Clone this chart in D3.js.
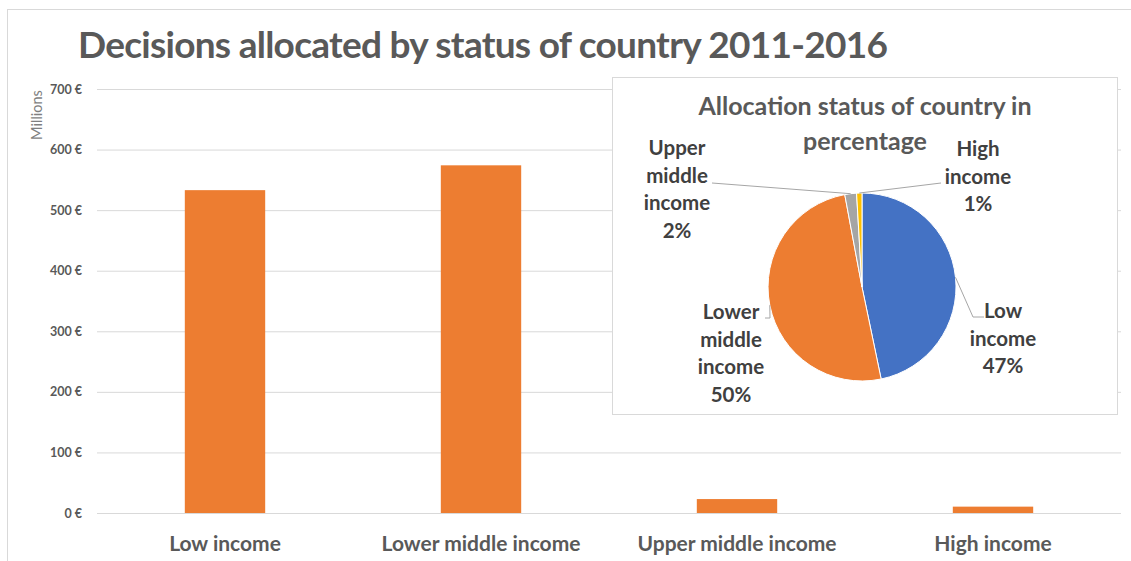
<!DOCTYPE html>
<html>
<head>
<meta charset="utf-8">
<script src="https://cdn.jsdelivr.net/npm/d3@7"></script>
<style>
  body { margin: 0; background: #fff; }
  svg { display: block; font-family: Lato, "Open Sans", sans-serif; }
</style>
</head>
<body>
<div id="chart"></div>
<script>
// Data
const categories = ["Low income", "Lower middle income", "Upper middle income", "High income"];
const values = [533, 574, 23, 10.5];            // millions of euros
const yTicks = [0, 100, 200, 300, 400, 500, 600, 700];
const pieLabels = [["Low", "income", "47%"], ["Lower", "middle", "income", "50%"],
                   ["Upper", "middle", "income", "2%"], ["High", "income", "1%"]];
const pieColors = ["#4472C4", "#ED7D31", "#A5A5A5", "#FFC000"];

const width = 1131, height = 561;
const textColor = "#595959";

const svg = d3.select("#chart").append("svg")
    .attr("width", width)
    .attr("height", height);

// outer chart frame
svg.append("rect")
    .attr("x", 7.5).attr("y", 9.5)
    .attr("width", 1140).attr("height", 600)
    .attr("fill", "#fff")
    .attr("stroke", "#d9d9d9");

// title
svg.append("text")
    .attr("x", 78).attr("y", 58)
    .attr("font-size", 37).attr("font-weight", "bold")
    .attr("fill", textColor)
    .attr("textLength", 810)
    .text("Decisions allocated by status of country 2011-2016");

// scales
const x = d3.scaleBand()
    .domain(categories)
    .range([97, 1121])
    .paddingInner(0.686)
    .paddingOuter(0.343);

const y = d3.scaleLinear()
    .domain([0, 700])
    .range([513, 89]);

// gridlines
svg.append("g")
    .selectAll("line")
    .data(yTicks)
    .join("line")
    .attr("x1", 97).attr("x2", 1121)
    .attr("y1", d => y(d) + 0.5).attr("y2", d => y(d) + 0.5)
    .attr("stroke", "#d9d9d9");

// y axis labels
const yAxis = svg.append("g")
    .attr("transform", "translate(82,0)")
    .call(d3.axisLeft(y).tickValues(yTicks).tickSize(0).tickPadding(0)
        .tickFormat(d => d + " €"));
yAxis.select(".domain").remove();
yAxis.selectAll("text")
    .attr("font-family", "Lato, sans-serif")
    .attr("font-size", 12.5).attr("font-weight", "bold")
    .attr("fill", textColor);

svg.append("text")
    .attr("transform", "translate(42,115) rotate(-90)")
    .attr("text-anchor", "middle")
    .attr("font-size", 14.5)
    .attr("fill", "#7f7f7f")
    .text("Millions");

// bars
svg.append("g")
    .selectAll("rect")
    .data(values)
    .join("rect")
    .attr("x", (d, i) => x(categories[i]))
    .attr("width", x.bandwidth())
    .attr("y", d => y(d))
    .attr("height", d => y(0) - y(d))
    .attr("fill", "#ED7D31");

// x axis labels
const xAxis = svg.append("g")
    .attr("transform", "translate(0,513)")
    .call(d3.axisBottom(x).tickSize(0).tickPadding(0));
xAxis.select(".domain").remove();
xAxis.selectAll("text")
    .attr("dy", 38)
    .attr("font-family", "Lato, sans-serif")
    .attr("font-size", 21).attr("font-weight", "bold")
    .attr("fill", textColor);

// inset pie panel
svg.append("rect")
    .attr("x", 612.5).attr("y", 77.5)
    .attr("width", 505).attr("height", 337)
    .attr("fill", "#fff")
    .attr("stroke", "#d9d9d9");

svg.append("g")
    .selectAll("text")
    .data(["Allocation status of country in", "percentage"])
    .join("text")
    .attr("x", 865).attr("y", (d, i) => 115 + i * 35)
    .attr("text-anchor", "middle")
    .attr("font-size", 25).attr("font-weight", "bold")
    .attr("fill", textColor)
    .text(d => d);

const cx = 862, cy = 287, r = 94;
const pie = d3.pie().sort(null).value(d => d)(values);
const arc = d3.arc().innerRadius(0).outerRadius(r);

const pg = svg.append("g").attr("transform", `translate(${cx},${cy})`);
pg.selectAll("path")
    .data(pie)
    .join("path")
    .attr("d", arc)
    .attr("fill", (d, i) => pieColors[i])
    .attr("stroke", "#fff")
    .attr("stroke-width", 1);

// pie labels: centre x, first line y (absolute)
const labelPos = [[1003, 311], [731, 312], [677, 148], [978, 149]];
const lineH = 27.5;
pieLabels.forEach((lines, i) => {
    svg.append("g")
        .selectAll("text")
        .data(lines)
        .join("text")
        .attr("x", labelPos[i][0])
        .attr("y", (d, j) => labelPos[i][1] + j * lineH)
        .attr("dy", "0.35em")
        .attr("text-anchor", "middle")
        .attr("font-size", 20.5).attr("font-weight", "bold")
        .attr("fill", "#404040")
        .text(d => d);
});

// leader lines from slice edge to label
const leaders = pie.map((d, i) => {
    const a = (d.startAngle + d.endAngle) / 2;
    const ex = cx + r * Math.sin(a), ey = cy - r * Math.cos(a);
    return { i, ex, ey };
});
const leaderPaths = [
    l => `M${l.ex},${l.ey}L973,317L984,317`,
    l => `M${l.ex},${l.ey}L770,318L765,318`,
    l => `M${l.ex},${l.ey}L712,183`,
    l => `M${l.ex},${l.ey}L941,183`
];
svg.append("g")
    .selectAll("path")
    .data(leaders)
    .join("path")
    .attr("d", l => leaderPaths[l.i](l))
    .attr("fill", "none")
    .attr("stroke", "#a6a6a6")
    .attr("stroke-width", 1);
</script>
</body>
</html>
